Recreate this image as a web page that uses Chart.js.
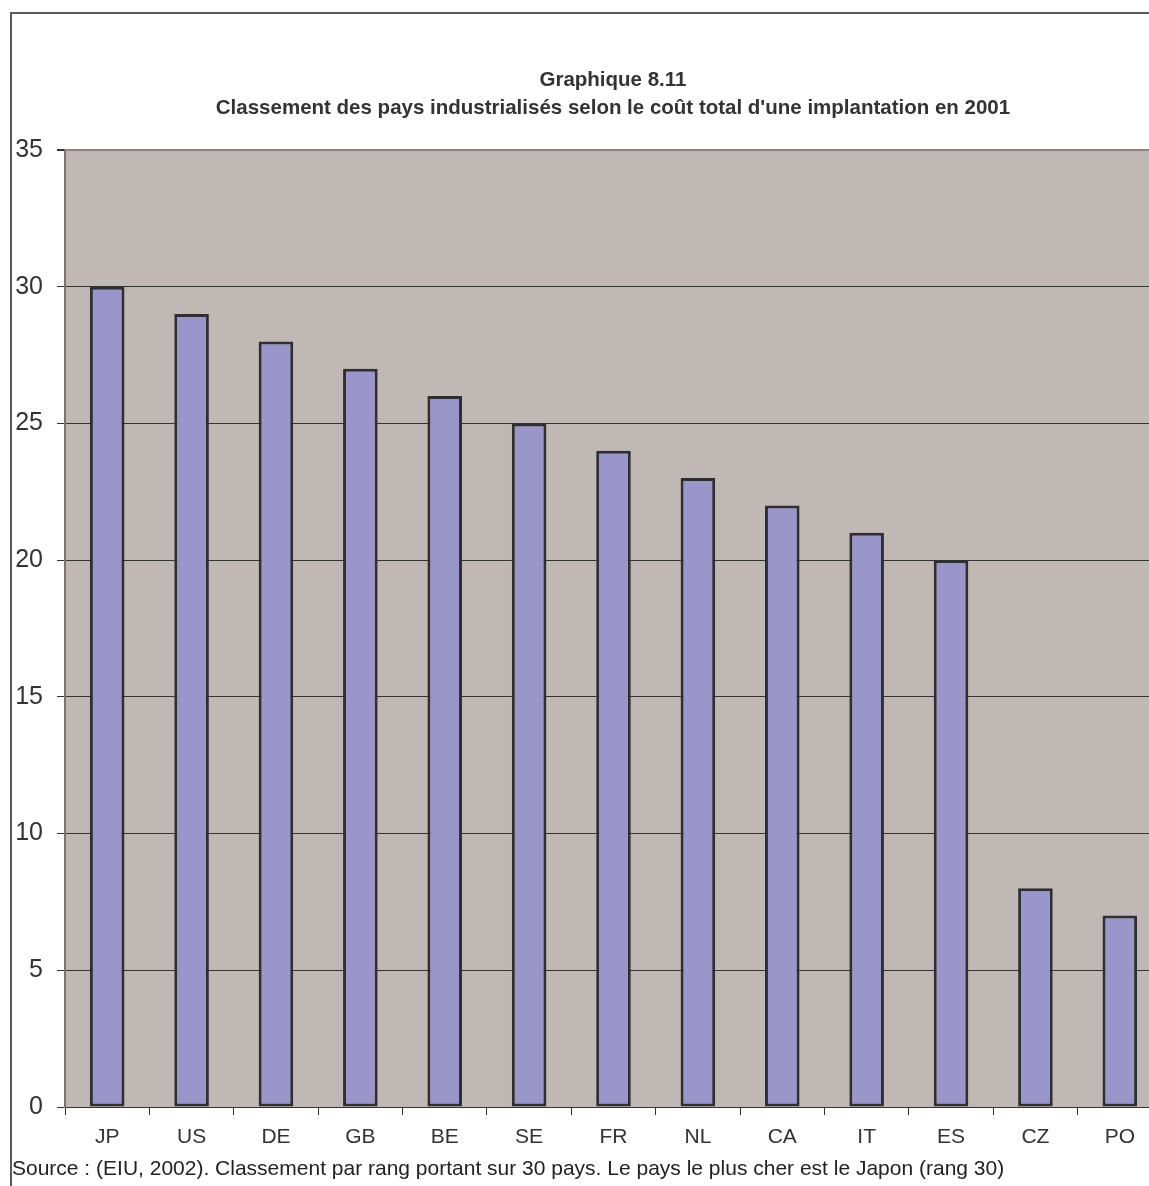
<!DOCTYPE html>
<html>
<head>
<meta charset="utf-8">
<script src="https://cdn.jsdelivr.net/npm/chart.js@4.4.0/dist/chart.umd.min.js"></script>
<style>
  html, body { margin: 0; padding: 0; background: #fff; overflow: hidden; }
  #wrap { position: relative; width: 1149px; height: 1186px; overflow: hidden; }
  #frame { position: absolute; left: 10px; top: 12px; width: 1300px; height: 1300px; border: 2px solid #5a5a5a; box-sizing: border-box; }
  #chart { position: absolute; left: 0; top: 0; }
  #title { position: absolute; left: 0; top: 65px; width: 1226px; text-align: center;
    font: bold 20.5px "Liberation Sans", Arial, sans-serif; line-height: 28px; color: #333; }
  #source { position: absolute; left: 12px; top: 1156px; font: 21px "Liberation Sans", Arial, sans-serif;
    line-height: 24px; color: #222; white-space: nowrap; }
</style>
</head>
<body>
<div id="wrap">
  <div id="frame"></div>
  <canvas id="chart" width="1165" height="1186"></canvas>
  <div id="title">Graphique 8.11<br>Classement des pays industrialisés selon le coût total d'une implantation en 2001</div>
  <div id="source">Source : (EIU, 2002). Classement par rang portant sur 30 pays. Le pays le plus cher est le Japon (rang 30)</div>
</div>
<script>
  // Data
  const countries = ['JP', 'US', 'DE', 'GB', 'BE', 'SE', 'FR', 'NL', 'CA', 'IT', 'ES', 'CZ', 'PO'];
  const ranks = [30, 29, 28, 27, 26, 25, 24, 23, 22, 21, 20, 8, 7];
  const yTicks = [0, 5, 10, 15, 20, 25, 30, 35];

  const colors = {
    plotBg: '#C0B8B5',
    bar: '#9A96CA',
    barBorder: '#2f2f33',
    grid: '#333333',
    plotEdge: '#8d8480',
    text: '#333333',
  };

  // Grey plot area background
  const plotBackground = {
    id: 'plotBackground',
    beforeDraw(chart) {
      const a = chart.chartArea;
      const c = chart.ctx;
      c.save();
      c.fillStyle = colors.plotBg;
      c.fillRect(a.left, a.top, a.right - a.left, a.bottom - a.top);
      c.restore();
    },
  };

  new Chart(document.getElementById('chart'), {
    type: 'bar',
    data: {
      labels: countries,
      datasets: [
        {
          data: ranks,
          backgroundColor: colors.bar,
          borderColor: colors.barBorder,
          borderWidth: 3,
          borderSkipped: false,
          categoryPercentage: 1,
          barPercentage: 0.41,
        },
      ],
    },
    options: {
      responsive: false,
      animation: false,
      devicePixelRatio: 1,
      layout: { padding: { top: 150, left: 0, right: 3, bottom: 0 } },
      plugins: {
        legend: { display: false },
        title: { display: false },
        tooltip: { enabled: false },
      },
      scales: {
        x: {
          grid: {
            offset: true,
            drawOnChartArea: false,
            drawTicks: true,
            tickLength: 8,
            color: colors.grid,
          },
          border: { display: true, color: colors.grid, width: 1 },
          ticks: {
            color: colors.text,
            padding: 10,
            font: { family: 'Liberation Sans', size: 21 },
          },
          afterFit(scale) {
            scale.height = 79;
          },
        },
        y: {
          min: 0,
          max: 35,
          afterBuildTicks(scale) {
            scale.ticks = yTicks.map((v) => ({ value: v }));
          },
          grid: {
            color: (ctx) => (ctx.tick && ctx.tick.value === 35 ? colors.plotEdge : colors.grid),
            lineWidth: (ctx) => (ctx.tick && ctx.tick.value === 35 ? 2 : 1),
            tickLength: 8,
            tickColor: colors.grid,
          },
          border: { display: true, color: '#7d7370', width: 2 },
          ticks: {
            color: colors.text,
            padding: 14,
            font: { family: 'Liberation Sans', size: 25 },
          },
          afterFit(scale) {
            scale.width = 65;
          },
        },
      },
    },
    plugins: [plotBackground],
  });
</script>
</body>
</html>
